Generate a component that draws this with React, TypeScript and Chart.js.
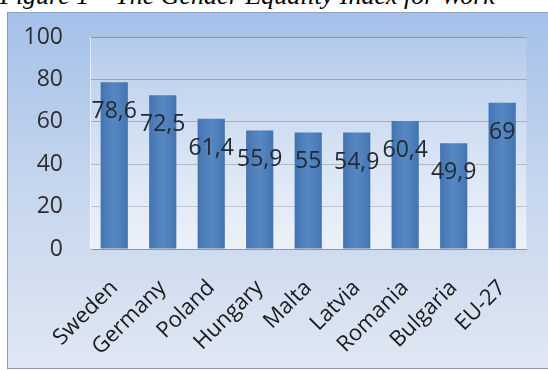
import React, { useEffect, useRef } from "react";
import { Chart, registerables } from "chart.js";

Chart.register(...registerables);

const categories = ["Sweden", "Germany", "Poland", "Hungary", "Malta", "Latvia", "Romania", "Bulgaria", "EU-27"];
const values = [78.6, 72.5, 61.4, 55.9, 55, 54.9, 60.4, 49.9, 69];
const valueLabels = ["78,6", "72,5", "61,4", "55,9", "55", "54,9", "60,4", "49,9", "69"];
const yTicks = [0, 20, 40, 60, 80, 100];
const titleText = "Figure 1 \u2013 The Gender Equality Index for Work";

const FONT = "'Open Sans', sans-serif";

const plotBg = {
  id: "plotBg",
  beforeDatasetsDraw(chart: any) {
    const { ctx, chartArea } = chart;
    const g = ctx.createLinearGradient(0, chartArea.top, 0, chartArea.bottom);
    g.addColorStop(0, "rgba(255,255,255,0.12)");
    g.addColorStop(1, "rgba(255,255,255,0.6)");
    ctx.save();
    ctx.fillStyle = g;
    ctx.fillRect(chartArea.left, chartArea.top, chartArea.right - chartArea.left, chartArea.bottom - chartArea.top);
    ctx.restore();
  },
};

const barLabels = {
  id: "barLabels",
  afterDatasetsDraw(chart: any) {
    const { ctx } = chart;
    const meta = chart.getDatasetMeta(0);
    ctx.save();
    meta.data.forEach((el: any) => {
      const w = el.width;
      const x0 = el.x - w / 2;
      const g = ctx.createLinearGradient(x0, 0, x0 + w, 0);
      g.addColorStop(0, "rgba(0,20,60,0.10)");
      g.addColorStop(0.5, "rgba(255,255,255,0.07)");
      g.addColorStop(1, "rgba(0,20,60,0.10)");
      ctx.fillStyle = g;
      ctx.fillRect(x0, el.y, w, el.base - el.y);
    });
    ctx.font = `23px ${FONT}`;
    ctx.fillStyle = "#222a35";
    ctx.textAlign = "center";
    ctx.textBaseline = "alphabetic";
    meta.data.forEach((el: any, i: number) => {
      ctx.fillText(valueLabels[i], el.x, el.y + 36);
    });
    ctx.restore();
  },
};

export default function App() {
  const ref = useRef<HTMLCanvasElement | null>(null);
  useEffect(() => {
    if (!ref.current) return;
    const chart = new Chart(ref.current, {
      type: "bar",
      data: {
        labels: categories,
        datasets: [
          {
            data: values,
            backgroundColor: "#4a7ebd",
            borderWidth: 0,
            categoryPercentage: 1,
            barPercentage: 0.56,
          },
        ],
      },
      options: {
        responsive: false,
        animation: false,
        devicePixelRatio: 1,
        layout: { padding: { top: 24, right: 21, left: 0, bottom: 0 } },
        plugins: { legend: { display: false }, tooltip: { enabled: false }, title: { display: false } },
        scales: {
          x: {
            grid: { display: false, drawTicks: false },
            border: { display: true, color: "#8f98a4" },
            ticks: {
              autoSkip: false,
              maxRotation: 45,
              minRotation: 45,
              padding: 26,
              color: "#1a1a1a",
              font: { family: FONT, size: 22 },
            },
            afterFit(scale: any) {
              scale.height = 119;
            },
          },
          y: {
            min: 0,
            max: 100,
            afterBuildTicks(scale: any) {
              scale.ticks = yTicks.map((v) => ({ value: v }));
            },
            grid: { color: "#808a97", drawTicks: true, tickLength: 27, tickColor: "rgba(0,0,0,0)" },
            border: { display: true, color: "rgba(255,255,255,0.6)" },
            ticks: {
              padding: 0,
              color: "#2e2e2e",
              font: { family: FONT, size: 23 },
            },
            afterFit(scale: any) {
              scale.width = 82;
            },
          },
        },
      },
      plugins: [plotBg, barLabels],
    });
    return () => chart.destroy();
  }, []);

  return (
    <div>
      <div
        style={{
          position: "absolute",
          left: 0,
          top: -17,
          fontFamily: "'Liberation Serif', 'Times New Roman', serif",
          fontStyle: "italic",
          fontSize: 26,
          lineHeight: "26px",
          whiteSpace: "nowrap",
          color: "#000",
        }}
      >
        {titleText}
      </div>
      <div
        style={{
          position: "absolute",
          left: 7,
          top: 12,
          width: 541,
          height: 357,
          boxSizing: "border-box",
          borderLeft: "1px solid #8e9aab",
          borderTop: "1px solid #8ea4c6",
          borderBottom: "1px solid #8e9aab",
          background: "linear-gradient(to bottom, #a5c0e8 0%, #c6d6ee 50%, #dfe7f2 100%)",
        }}
      >
        <canvas ref={ref} width={540} height={355} style={{ display: "block", width: 540, height: 355 }} />
      </div>
    </div>
  );
}
